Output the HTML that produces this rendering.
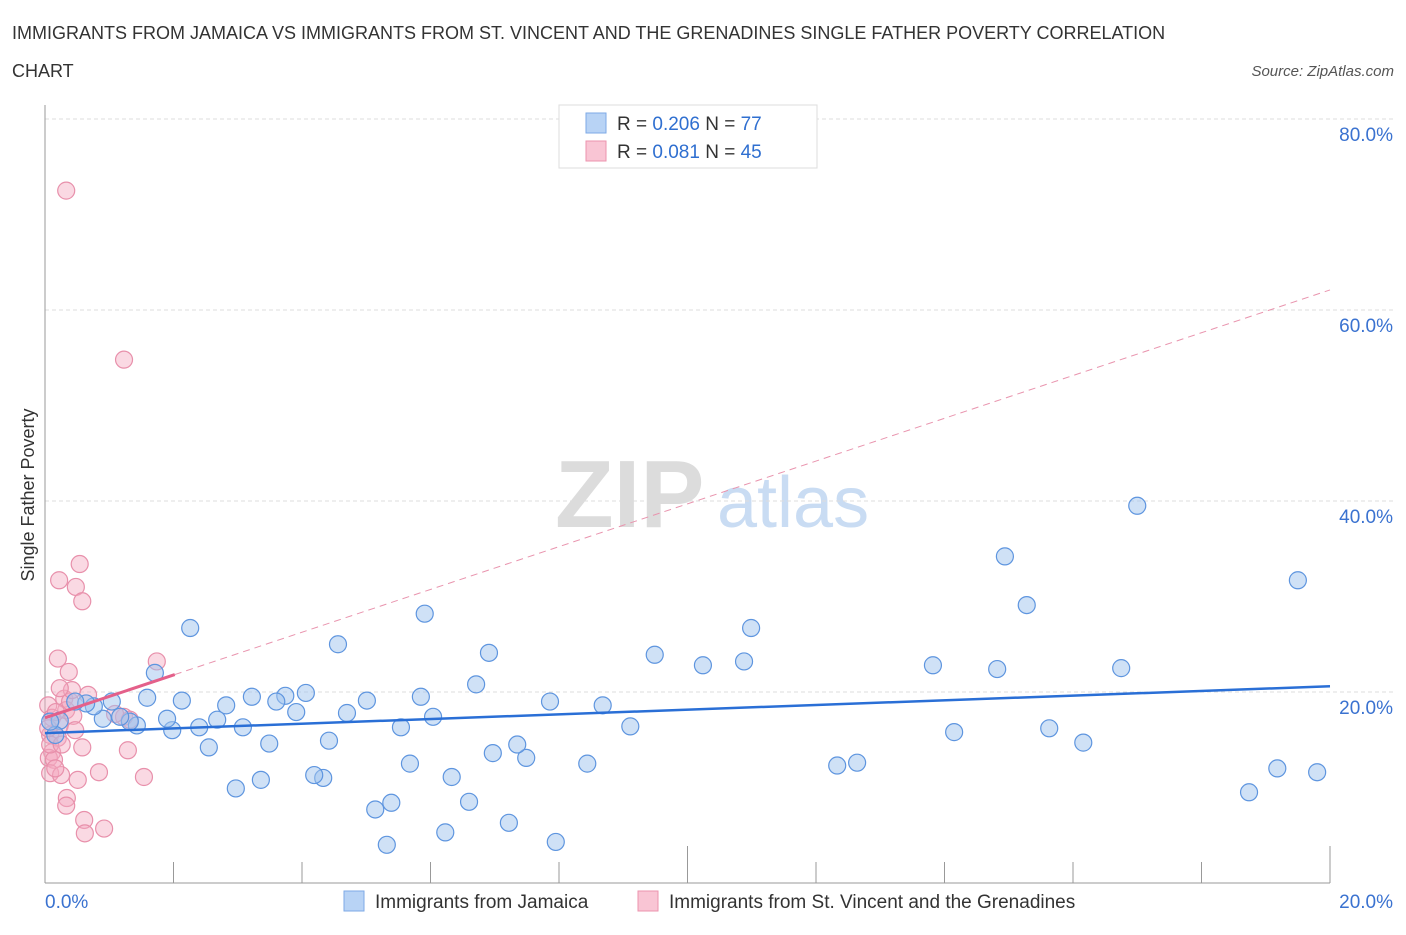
<!DOCTYPE html>
<html><head><meta charset="utf-8"><style>
body{margin:0;background:#fff;font-family:"Liberation Sans",sans-serif;}
svg text{font-family:"Liberation Sans",sans-serif;}
</style></head><body>
<svg id="chart" width="1406" height="930" xmlns="http://www.w3.org/2000/svg">
<text x="12" y="39" font-size="18" fill="#333">IMMIGRANTS FROM JAMAICA VS IMMIGRANTS FROM ST. VINCENT AND THE GRENADINES SINGLE FATHER POVERTY CORRELATION</text>
<text x="12" y="77" font-size="18" fill="#333">CHART</text>
<text x="1394" y="76" font-size="15" fill="#555" font-style="italic" text-anchor="end">Source: ZipAtlas.com</text>
<g>
<text x="555" y="527" font-size="96" fill="#dcdcdc" font-family="Liberation Serif" font-weight="bold">ZIP</text>
<text x="717" y="527" font-size="72" fill="#c9dcf3">atlas</text>
</g>
<g id="grid"></g>
<g id="axes"></g>
<g id="marks"></g>
<text transform="translate(34,495) rotate(-90)" font-size="18" fill="#333" text-anchor="middle">Single Father Poverty</text>
<g>
<rect x="559" y="105" width="258" height="63" fill="#fff" stroke="#ddd"/>
<rect x="586" y="113" width="20" height="20" fill="#b8d3f5" stroke="#7ea9e6"/>
<text x="617" y="130" font-size="19" fill="#333">R = <tspan fill="#2f6fd0">0.206</tspan>   N = <tspan fill="#2f6fd0">77</tspan></text>
<rect x="586" y="141" width="20" height="20" fill="#f9c5d4" stroke="#ec93ae"/>
<text x="617" y="158" font-size="19" fill="#333">R =  <tspan fill="#2f6fd0">0.081</tspan>   N = <tspan fill="#2f6fd0">45</tspan></text>
</g>
<g>
<rect x="344" y="891" width="20" height="20" fill="#b8d3f5" stroke="#7ea9e6"/>
<text x="375" y="908" font-size="19" fill="#333">Immigrants from Jamaica</text>
<rect x="638" y="891" width="20" height="20" fill="#f9c5d4" stroke="#ec93ae"/>
<text x="669" y="908" font-size="19" fill="#333">Immigrants from St. Vincent and the Grenadines</text>
</g>
</svg>
<script>
const blueX=[2.26,1.71,4.56,5.91,6.91,6.71,9.49,10.24,10.88,10.99,13.82,14.82,14.94,15.28,16.75,17.00,19.50,15.63,16.16,14.15,12.33,12.64,18.74,19.18,19.80,9.11,8.68,8.44,7.86,7.95,7.49,7.35,6.97,7.22,6.60,6.33,6.23,6.04,5.85,5.68,5.54,5.32,5.39,5.14,5.01,4.70,4.42,4.33,4.19,4.06,3.91,3.74,3.60,3.49,3.36,3.22,3.08,2.97,2.82,2.68,2.55,2.40,2.13,1.98,1.90,1.59,1.43,1.32,1.17,1.04,0.90,0.76,0.64,0.47,0.23,0.16,0.08];
const blueY=[26.7,22.0,25.0,28.2,24.1,20.8,23.9,22.8,23.2,26.7,22.8,22.4,34.2,29.1,22.5,39.5,31.7,16.2,14.7,15.8,12.3,12.6,9.5,12.0,11.6,16.4,18.6,12.5,19.0,4.3,13.1,14.5,13.6,6.3,8.5,11.1,5.3,17.4,19.5,12.5,16.3,4.0,8.4,7.7,19.1,17.8,14.9,11.0,11.3,19.9,17.9,19.6,19.0,14.6,10.8,19.5,16.3,9.9,18.6,17.1,14.2,16.3,19.1,16.0,17.2,19.4,16.5,16.9,17.4,19.0,17.2,18.5,18.8,19.0,17.0,15.5,16.9];
const pinkX=[0.33,1.23,0.54,0.22,0.48,0.58,0.20,0.37,1.74,0.05,0.30,0.33,0.44,0.11,0.23,0.47,0.08,0.20,0.58,1.29,0.11,0.06,0.14,0.84,0.08,0.25,0.51,1.54,0.34,0.33,0.61,0.62,0.92,1.23,1.32,0.08,0.17,0.39,0.05,0.26,0.16,0.67,0.42,0.23,1.09];
const pinkY=[72.5,54.8,33.4,31.7,31.0,29.5,23.5,22.1,23.2,18.6,19.3,18.1,17.5,17.3,16.5,16.0,15.5,15.2,14.2,13.9,13.7,13.1,12.9,11.6,11.5,11.3,10.8,11.1,8.9,8.1,6.6,5.2,5.7,17.4,17.1,14.5,17.9,19.0,16.2,14.5,12.0,19.7,20.2,20.4,17.7];
const blueTrend=[15.7,20.6];
const pinkTrend=[17.3,62.1];
const pinkSolidEnd=2.02;
const yTicks=[20,40,60,80];
const yTickLabels=["20.0%","40.0%","60.0%","80.0%"];
const xTicks=[0,2,4,6,8,10,12,14,16,18,20];

const NS="http://www.w3.org/2000/svg";
const X=v=>45+v*64.25;
const Y=v=>883-v*9.55;
function mk(tag,attrs,parent){const e=document.createElementNS(NS,tag);for(const k in attrs)e.setAttribute(k,attrs[k]);document.getElementById(parent).appendChild(e);return e;}
yTicks.forEach((t,i)=>{
 const l=mk('line',{x1:45,x2:1395,y1:Y(t),y2:Y(t),stroke:'#ddd','stroke-dasharray':'4,3'},'grid');
 
 
 const tx=mk('text',{x:1393,y:Y(t)+22,'font-size':19,fill:'#3a72d0','text-anchor':'end'},'grid');
 tx.textContent=yTickLabels[i];
 
 
});
const ya=mk('line',{x1:45,x2:45,y1:105,y2:883,stroke:'#999'},'axes');


const xa=mk('line',{x1:45,x2:1330,y1:883,y2:883,stroke:'#999'},'axes');


xTicks.forEach(t=>{
 const tk=mk('line',{x1:X(t),x2:X(t),y1:t===10||t===20?846:862,y2:883,stroke:'#999'},'axes');
 
 
});
const xl0=mk('text',{x:45,y:908,'font-size':19,fill:'#3a72d0'},'axes');xl0.textContent='0.0%';


const xl1=mk('text',{x:1393,y:908,'font-size':19,fill:'#3a72d0','text-anchor':'end'},'axes');xl1.textContent='20.0%';



pinkX.forEach((x,i)=>{
 const c=mk('circle',{cx:X(x),cy:Y(pinkY[i]),r:8.5,fill:'rgba(244,170,194,0.45)',stroke:'#e890ab','stroke-width':1.2},'marks');
 
 
});
blueX.forEach((x,i)=>{
 const c=mk('circle',{cx:X(x),cy:Y(blueY[i]),r:8.5,fill:'rgba(160,195,238,0.5)',stroke:'#5e95df','stroke-width':1.2},'marks');
 
 
});
const pf=v=>pinkTrend[0]+(pinkTrend[1]-pinkTrend[0])*v/20;
const pd=mk('line',{x1:X(pinkSolidEnd),y1:Y(pf(pinkSolidEnd)),x2:X(20),y2:Y(pinkTrend[1]),stroke:'#e994ae','stroke-width':1,'stroke-dasharray':'7,5'},'marks');


const ps=mk('line',{x1:X(0),y1:Y(pinkTrend[0]),x2:X(pinkSolidEnd),y2:Y(pf(pinkSolidEnd)),stroke:'#e4608a','stroke-width':3},'marks');


const bl=mk('line',{x1:X(0),y1:Y(blueTrend[0]),x2:X(20),y2:Y(blueTrend[1]),stroke:'#2a6fd6','stroke-width':2.5},'marks');


</script>
</body></html>
